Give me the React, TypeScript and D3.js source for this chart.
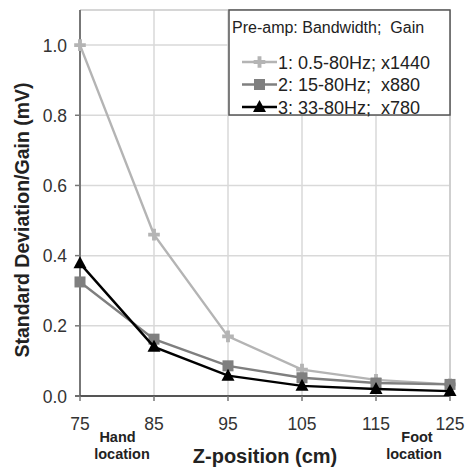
import React from "react";
import * as d3 from "d3";

const zPositions = [75, 85, 95, 105, 115, 125];
const series1 = [1.0, 0.46, 0.17, 0.075, 0.046, 0.033];
const series2 = [0.325, 0.162, 0.086, 0.052, 0.037, 0.033];
const series3 = [0.378, 0.14, 0.058, 0.029, 0.02, 0.014];
const yTicks = [0, 0.2, 0.4, 0.6, 0.8, 1.0];
const legendLabels = ["1: 0.5-80Hz; x1440", "2: 15-80Hz;  x880", "3: 33-80Hz;  x780"];
const seriesColors = ["#b4b4b4", "#7f7f7f", "#000000"];
const seriesMarkers = ["cross", "square", "triangle"];

const W = 466, H = 467;
const left = 80, right = 450, top = 10, bottom = 396;
const font = "'Liberation Sans', Arial, sans-serif";

function Marker({ type, x, y, color }: { type: string; x: number; y: number; color: string }) {
  if (type === "square") return <rect x={x - 5.5} y={y - 5.5} width={11} height={11} fill={color} />;
  if (type === "triangle") return <path d={`M${x},${y - 7}L${x + 6.5},${y + 5}L${x - 6.5},${y + 5}Z`} fill={color} />;
  const s = d3.symbol(d3.symbolCross, 75)();
  return <path d={s as string} transform={`translate(${x},${y})`} fill={color} />;
}

export default function App() {
  const x = d3.scaleLinear().domain([75, 125]).range([left, right]);
  const y = d3.scaleLinear().domain([0, 1.1]).range([bottom, top]);
  const all = [series1, series2, series3];
  const line = d3.line<number>().x((_, i) => x(zPositions[i])).y((d) => y(d));
  return (
    <svg width={W} height={H} style={{ position: "absolute", left: 0, top: 0, background: "#fff" }} fontFamily={font}>
      <rect x={0} y={0} width={W} height={H} fill="#fff" />
      {/* grid */}
      {yTicks.map((t) => (
        <line key={"gy" + t} x1={left} x2={right} y1={y(t)} y2={y(t)} stroke="#d9d9d9" strokeWidth={1.5} />
      ))}
      {zPositions.map((t) => (
        <line key={"gx" + t} x1={x(t)} x2={x(t)} y1={top} y2={bottom} stroke="#d9d9d9" strokeWidth={1.5} />
      ))}
      <line x1={left} x2={right} y1={top} y2={top} stroke="#c8c8c8" strokeWidth={1.5} />
      <line x1={right} x2={right} y1={top} y2={bottom} stroke="#c8c8c8" strokeWidth={1.5} />
      {/* axes */}
      <line x1={left} x2={left} y1={top} y2={bottom + 1} stroke="#777" strokeWidth={2} />
      <line x1={left - 5} x2={right} y1={bottom} y2={bottom} stroke="#555" strokeWidth={2} />
      {yTicks.map((t) => (
        <g key={"ty" + t}>
          <line x1={left - 5} x2={left} y1={y(t)} y2={y(t)} stroke="#777" strokeWidth={1.5} />
          <text x={67} y={y(t) + 6.5} textAnchor="end" fontSize={17.5} fill="#333">{t.toFixed(1)}</text>
        </g>
      ))}
      {zPositions.map((t) => (
        <g key={"tx" + t}>
          <line x1={x(t)} x2={x(t)} y1={bottom} y2={bottom + 5} stroke="#777" strokeWidth={1.5} />
          <text x={x(t)} y={430} textAnchor="middle" fontSize={17.5} fill="#333">{t}</text>
        </g>
      ))}
      {/* series */}
      {all.map((s, i) => (
        <g key={"s" + i}>
          <path d={line(s) as string} fill="none" stroke={seriesColors[i]} strokeWidth={2.4} />
          {s.map((v, j) => (
            <Marker key={j} type={seriesMarkers[i]} x={x(zPositions[j])} y={y(v)} color={seriesColors[i]} />
          ))}
        </g>
      ))}
      {/* legend */}
      <rect x={229} y={10} width={221} height={105} fill="#fff" stroke="#555" strokeWidth={1.5} />
      <text x={232} y={33} fontSize={16} fill="#222" style={{ whiteSpace: "pre" }}>Pre-amp: Bandwidth;  Gain</text>
      {legendLabels.map((l, i) => {
        const cy = 62 + i * 22.5;
        return (
          <g key={"l" + i}>
            <line x1={242} x2={277} y1={cy} y2={cy} stroke={seriesColors[i]} strokeWidth={2.4} />
            <Marker type={seriesMarkers[i]} x={259.5} y={cy} color={seriesColors[i]} />
            <text x={278} y={cy + 6.5} fontSize={18} fill="#222" style={{ whiteSpace: "pre" }}>{l}</text>
          </g>
        );
      })}
      {/* axis titles */}
      <text transform="translate(29,220) rotate(-90)" textAnchor="middle" fontSize={19.5} fontWeight="bold" fill="#222">Standard Deviation/Gain (mV)</text>
      <text x={265} y={463} textAnchor="middle" fontSize={20} fontWeight="bold" fill="#222">Z-position (cm)</text>
      <text textAnchor="middle" fontSize={14.5} fontWeight="bold" fill="#222">
        <tspan x={117.5} y={441.5}>Hand</tspan>
        <tspan x={122} y={458.5}>location</tspan>
      </text>
      <text textAnchor="middle" fontSize={14.5} fontWeight="bold" fill="#222">
        <tspan x={417} y={441.5}>Foot</tspan>
        <tspan x={414} y={458.5}>location</tspan>
      </text>
    </svg>
  );
}
